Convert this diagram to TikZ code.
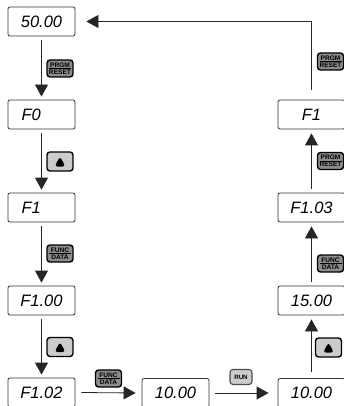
\documentclass[tikz,border=0pt]{standalone}
\usepackage{fontspec}
\setmainfont{Liberation Sans}
\usetikzlibrary{arrows.meta}
\tikzset{
  disp/.style={draw=black!80, line width=0.8pt, rounded corners=2pt,
    minimum width=67pt, minimum height=29pt, inner sep=0pt,
    font=\fontsize{16.5}{16.5}\selectfont\itshape},
  arr/.style={draw=black!85, line width=0.8pt,
    -{Triangle[length=12pt,width=13pt]}},
  keydark/.style={draw=black, line width=1.4pt, rounded corners=3pt,
    fill=black!45, minimum width=26pt, minimum height=17pt, inner sep=0pt,
    font=\fontsize{6.6}{6.6}\selectfont\bfseries},
  keylight/.style={draw=black, line width=1.4pt, rounded corners=3pt,
    fill=black!20, minimum width=26pt, minimum height=19pt, inner sep=0pt},
  keyrun/.style={draw=black!70, line width=1.1pt, rounded corners=3pt,
    fill=black!20, minimum width=22pt, minimum height=15pt, inner sep=0pt,
    font=\fontsize{6.2}{6.2}\selectfont\bfseries},
}
% two-line key legend with a rule between the words
\newcommand{\keytext}[2]{\vbox{\offinterlineskip
  \hbox to 22pt{\hss#1\hss}\kern0.7pt\hrule height0.6pt\kern0.7pt
  \hbox to 22pt{\hss#2\hss}}}
\newcommand{\uptri}{\tikz[x=1pt,y=1pt]\fill[black] (0,0) -- (11,0) -- (5.5,10) -- cycle;}
% short readouts sit flush left in the field of a five-character one
\newcommand{\lfield}[1]{\makebox[40pt][l]{#1}}
\begin{document}
\begin{tikzpicture}[x=1pt,y=-1pt]
\useasboundingbox (0,0) rectangle (344,406);
% left column of displays
\node[disp] (s50) at (41.5,21.5) {50.00};
\node[disp] (f0) at (41.5,114.5) {\lfield{F0}};
\node[disp] (f1) at (41.5,207.5) {\lfield{F1}};
\node[disp] (f100) at (41.5,300.5) {F1.00};
\node[disp] (f102) at (41.5,392.5) {F1.02};
% bottom row
\node[disp] (m10) at (175.5,393) {10.00};
\node[disp] (r10) at (311.5,393) {10.00};
% right column of displays
\node[disp] (r15) at (311.5,300.5) {15.00};
\node[disp] (f103) at (311.5,207.5) {F1.03};
\node[disp] (rf1) at (311.5,114.5) {F1};
% connectors
\draw[arr] ([yshift=-4pt]s50.south) -- ([yshift=3pt]f0.north);
\draw[arr] ([yshift=-4pt]f0.south) -- ([yshift=3pt]f1.north);
\draw[arr] ([yshift=-4pt]f1.south) -- ([yshift=3pt]f100.north);
\draw[arr] ([yshift=-4pt]f100.south) -- ([yshift=3pt]f102.north);
\draw[arr] ([xshift=6pt]f102.east) -- ([xshift=-6pt]m10.west);
\draw[arr] ([xshift=6pt]m10.east) -- ([xshift=-9pt]r10.west);
\draw[arr] ([yshift=6pt]r10.north) -- ([yshift=-4pt]r15.south);
\draw[arr] ([yshift=4pt]r15.north) -- ([yshift=-4pt]f103.south);
\draw[arr] ([yshift=4pt]f103.north) -- ([yshift=-4pt]rf1.south);
\draw[arr] ([yshift=10pt]rf1.north) |- ([xshift=11pt]s50.east);
% keys
\node[keydark] (k1) at (60,68.5) {\keytext{PRGM}{RESET}};
\node[keylight] (k2) at (60,161.5) {\uptri};
\node[keydark] (k3) at (60,253.5) {\keytext{FUNC}{DATA}};
\node[keylight] (k4) at (60,347) {\uptri};
\node[keydark] (k5) at (108.5,378.5) {\keytext{FUNC}{DATA}};
\node[keyrun] (k6) at (241,377) {RUN};
\node[keylight] (k7) at (328.5,347.5) {\uptri};
\node[keydark] (k8) at (330.5,263.5) {\keytext{FUNC}{DATA}};
\node[keydark] (k9) at (330.5,161) {\keytext{PRGM}{RESET}};
\node[keydark] (k10) at (330.5,61.5) {\keytext{PRGM}{RESET}};
\end{tikzpicture}
\end{document}
